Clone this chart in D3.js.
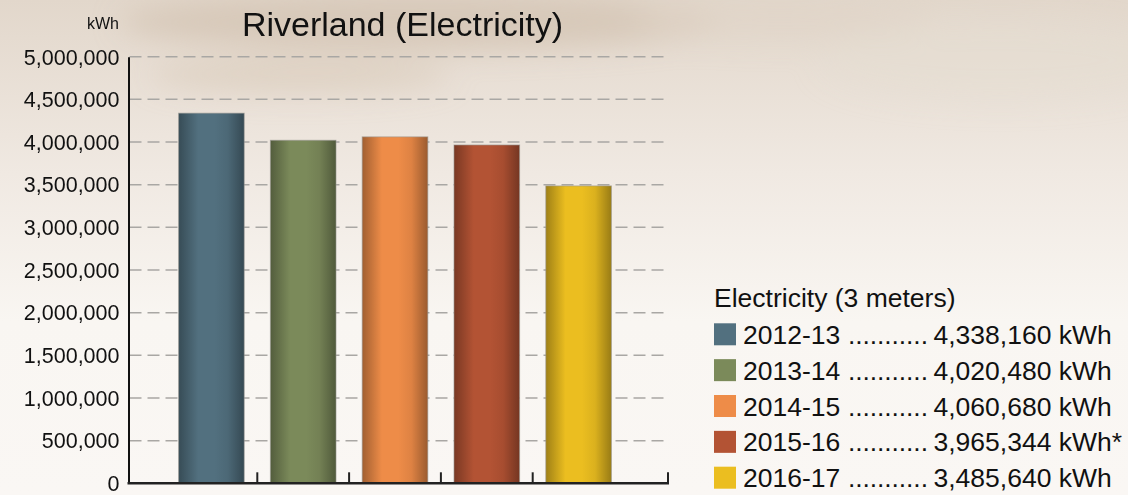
<!DOCTYPE html>
<html>
<head>
<meta charset="utf-8">
<script src="https://cdn.jsdelivr.net/npm/d3@7"></script>
<style>
  body { margin: 0; background: #f8f4ef; }
  text { font-family: "Liberation Sans", Arial, Helvetica, sans-serif; fill: #111; }
</style>
</head>
<body>
<div id="canvas"></div>
<script>
// chart data
const years = ["2012-13", "2013-14", "2014-15", "2015-16", "2016-17"]
const usage = [4338160, 4020480, 4060680, 3965344, 3485640]
const notes = ["", "", "", "*", ""]
const colors = ["#52707f", "#7b8a5a", "#ee8c48", "#b35334", "#ebbe20"]
const yTicks = [0, 500000, 1000000, 1500000, 2000000, 2500000, 3000000, 3500000, 4000000, 4500000, 5000000]

const width = 1128
const height = 495

const canvas = d3.select("#canvas")
const svg = canvas.append("svg")
    .attr("width", width)
    .attr("height", height)

const defs = svg.append("defs")

// background
const bg = defs.append("linearGradient").attr("id", "bg")
    .attr("x1", 0).attr("y1", 0).attr("x2", 0).attr("y2", 1)
bg.append("stop").attr("offset", "0%").attr("stop-color", "#e2d7cb")
bg.append("stop").attr("offset", "35%").attr("stop-color", "#f0e9e2")
bg.append("stop").attr("offset", "65%").attr("stop-color", "#f9f6f2")
bg.append("stop").attr("offset", "100%").attr("stop-color", "#faf7f4")

defs.append("filter").attr("id", "blur")
    .attr("x", "-50%").attr("y", "-50%").attr("width", "200%").attr("height", "200%")
    .append("feGaussianBlur").attr("stdDeviation", 14)

svg.append("rect").attr("width", width).attr("height", height).attr("fill", "url(#bg)")

const clouds = svg.append("g").attr("filter", "url(#blur)")
clouds.append("ellipse").attr("cx", 420).attr("cy", 22).attr("rx", 300).attr("ry", 28)
    .attr("fill", "#d3c3b1").attr("opacity", 0.75)
clouds.append("ellipse").attr("cx", 300).attr("cy", 75).attr("rx", 150).attr("ry", 18)
    .attr("fill", "#d8cab9").attr("opacity", 0.6)
clouds.append("ellipse").attr("cx", 780).attr("cy", 20).attr("rx", 150).attr("ry", 20)
    .attr("fill", "#e0d4c6").attr("opacity", 0.6)
clouds.append("ellipse").attr("cx", 1000).attr("cy", 60).attr("rx", 180).attr("ry", 40)
    .attr("fill", "#e6ddd2").attr("opacity", 0.5)

// scales
const x = d3.scaleBand()
    .domain(years)
    .range([165.5, 624.5])
    .paddingInner(0.285)
    .paddingOuter(0.1425)

const y = d3.scaleLinear()
    .domain([0, 5000000])
    .range([483.3, 56.7])

const axisLeft = 128.5
const axisRight = 668

// gridlines
svg.append("g").selectAll("line").data(yTicks.filter(d => d > 0)).enter().append("line")
    .attr("x1", axisLeft + 1).attr("x2", 664)
    .attr("y1", d => y(d)).attr("y2", d => y(d))
    .attr("stroke", "#a9a7a4")
    .attr("stroke-width", 1.5)
    .attr("stroke-dasharray", "12,6")

// bar gradients
colors.forEach((c, i) => {
    const base = d3.color(c)
    const g = defs.append("linearGradient").attr("id", "bar" + i)
        .attr("x1", 0).attr("y1", 0).attr("x2", 1).attr("y2", 0)
    g.append("stop").attr("offset", "0%").attr("stop-color", base.darker(1.1))
    g.append("stop").attr("offset", "30%").attr("stop-color", base)
    g.append("stop").attr("offset", "55%").attr("stop-color", base)
    g.append("stop").attr("offset", "75%").attr("stop-color", base.darker(0.2))
    g.append("stop").attr("offset", "100%").attr("stop-color", base.darker(1.2))
})

svg.append("g").selectAll("rect").data(years).enter().append("rect")
    .attr("x", d => x(d))
    .attr("y", (d, i) => y(usage[i]))
    .attr("width", x.bandwidth())
    .attr("height", (d, i) => y(0) - y(usage[i]))
    .attr("fill", (d, i) => `url(#bar${i})`)
    .attr("stroke", "#9a9793")
    .attr("stroke-opacity", 0.6)
    .attr("stroke-width", 1)

// y axis
const yAxis = svg.append("g")
    .attr("transform", `translate(${axisLeft},0)`)
    .call(d3.axisLeft(y).tickValues(yTicks).tickFormat(d3.format(",")).tickSize(0).tickPadding(9))
yAxis.select(".domain").attr("stroke", "#111").attr("stroke-width", 2)
yAxis.selectAll("text")
    .style("font-family", "'Liberation Sans', Arial, sans-serif")
    .style("font-size", "21.5px")
    .attr("fill", "#111")
    .attr("dy", "0.34em")

// x axis
const xAxis = svg.append("g")
xAxis.append("line")
    .attr("x1", axisLeft - 1).attr("x2", axisRight + 1)
    .attr("y1", y(0)).attr("y2", y(0))
    .attr("stroke", "#222").attr("stroke-width", 2.5)
const bounds = years.slice(1).map(d => x(d) - x.step() * x.paddingInner() / 2)
bounds.push(axisRight)
xAxis.selectAll(".tick").data(bounds).enter().append("line")
    .attr("x1", d => d).attr("x2", d => d)
    .attr("y1", y(0)).attr("y2", y(0) - 11)
    .attr("stroke", "#222").attr("stroke-width", 2)

// labels
svg.append("text")
    .attr("x", 119).attr("y", 29)
    .attr("text-anchor", "end")
    .style("font-size", "16px")
    .text("kWh")

svg.append("text")
    .attr("x", 402.5).attr("y", 36)
    .attr("text-anchor", "middle")
    .style("font-size", "34px")
    .text("Riverland (Electricity)")

// legend
const legend = svg.append("g").attr("transform", "translate(714,0)")
legend.append("text")
    .attr("x", 0).attr("y", 306.5)
    .style("font-size", "26.5px")
    .text("Electricity (3 meters)")

const rows = legend.selectAll(".row").data(years).enter().append("g")
    .attr("class", "row")
    .attr("transform", (d, i) => `translate(0,${323.3 + i * 35.85})`)
rows.append("rect")
    .attr("width", 22).attr("height", 22)
    .attr("fill", (d, i) => colors[i])
rows.append("text")
    .attr("x", 29).attr("y", 20.5)
    .style("font-size", "26.5px")
    .text(d => d)
rows.append("text")
    .attr("x", 134).attr("y", 20.5)
    .style("font-size", "26.5px")
    .attr("textLength", 80)
    .attr("lengthAdjust", "spacing")
    .text("...........")
rows.append("text")
    .attr("x", 219.5).attr("y", 20.5)
    .style("font-size", "26.5px")
    .text((d, i) => d3.format(",")(usage[i]) + " kWh" + notes[i])
</script>
</body>
</html>
